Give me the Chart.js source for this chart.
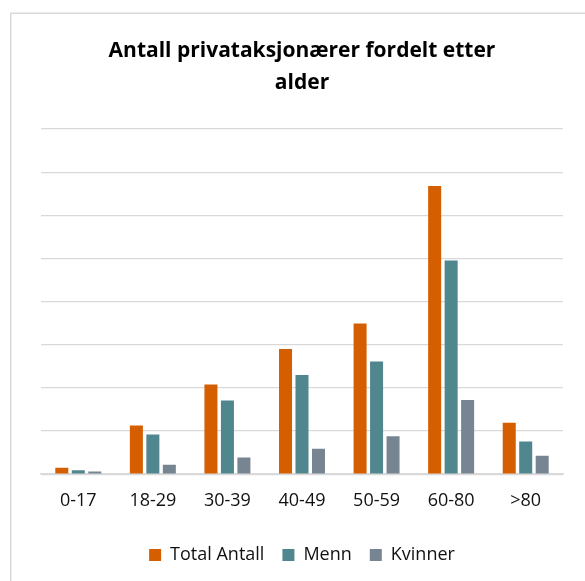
<!DOCTYPE html>
<html>
<head>
<meta charset="utf-8">
<script src="https://cdn.jsdelivr.net/npm/chart.js@4.4.1/dist/chart.umd.min.js"></script>
<style>
  html, body { margin: 0; padding: 0; background: #fff; }
  #wrap { position: relative; width: 585px; height: 581px; }
</style>
</head>
<body>
<div id="wrap"><canvas id="c" width="585" height="581"></canvas></div>
<script>
const categories = ["0-17", "18-29", "30-39", "40-49", "50-59", "60-80", ">80"];
const totalAntall = [0.15, 1.13, 2.08, 2.90, 3.49, 6.68, 1.19];
const menn = [0.09, 0.92, 1.71, 2.30, 2.61, 4.95, 0.76];
const kvinner = [0.06, 0.22, 0.39, 0.59, 0.88, 1.72, 0.43];
const seriesNames = ["Total Antall", "Menn", "Kvinner"];
const titleLines = ["Antall privataksjonærer fordelt etter", "alder"];

const frame = {
  id: 'frame',
  beforeDraw(chart) {
    const ctx = chart.ctx;
    ctx.save();
    ctx.strokeStyle = '#d9d9d9';
    ctx.lineWidth = 1.5;
    ctx.strokeRect(10.75, 13.25, 800, 800);
    ctx.restore();
  }
};

new Chart(document.getElementById('c'), {
  type: 'bar',
  data: {
    labels: categories,
    datasets: [
      { label: seriesNames[0], data: totalAntall, backgroundColor: '#D55E00' },
      { label: seriesNames[1], data: menn, backgroundColor: '#50868E' },
      { label: seriesNames[2], data: kvinner, backgroundColor: '#778593' }
    ]
  },
  options: {
    responsive: false,
    animation: false,
    devicePixelRatio: 1,
    layout: { padding: { left: 41, right: 22, top: 0, bottom: 7 } },
    datasets: { bar: { categoryPercentage: 0.663, barPercentage: 0.79 } },
    plugins: {
      title: {
        display: true,
        text: titleLines,
        color: '#000',
        font: { family: 'Open Sans', size: 21, weight: 'bold', lineHeight: 1.557 },
        padding: { top: 34.45, bottom: 29.15 }
      },
      legend: {
        position: 'bottom',
        labels: {
          boxWidth: 12, boxHeight: 12, padding: 18,
          color: '#111',
          font: { family: 'Open Sans', size: 18 }
        }
      },
      tooltip: { enabled: false }
    },
    scales: {
      x: {
        grid: { display: false, drawTicks: false },
        border: { display: true, color: '#d9d9d9', width: 1.5 },
        ticks: { color: '#111', padding: 5, font: { family: 'Open Sans', size: 18, lineHeight: 2.433 } }
      },
      y: {
        min: 0, max: 8,
        ticks: { display: false, stepSize: 1 },
        grid: { color: '#d9d9d9', lineWidth: 1.2, drawTicks: false },
        border: { display: false }
      }
    }
  },
  plugins: [frame]
});
</script>
</body>
</html>
